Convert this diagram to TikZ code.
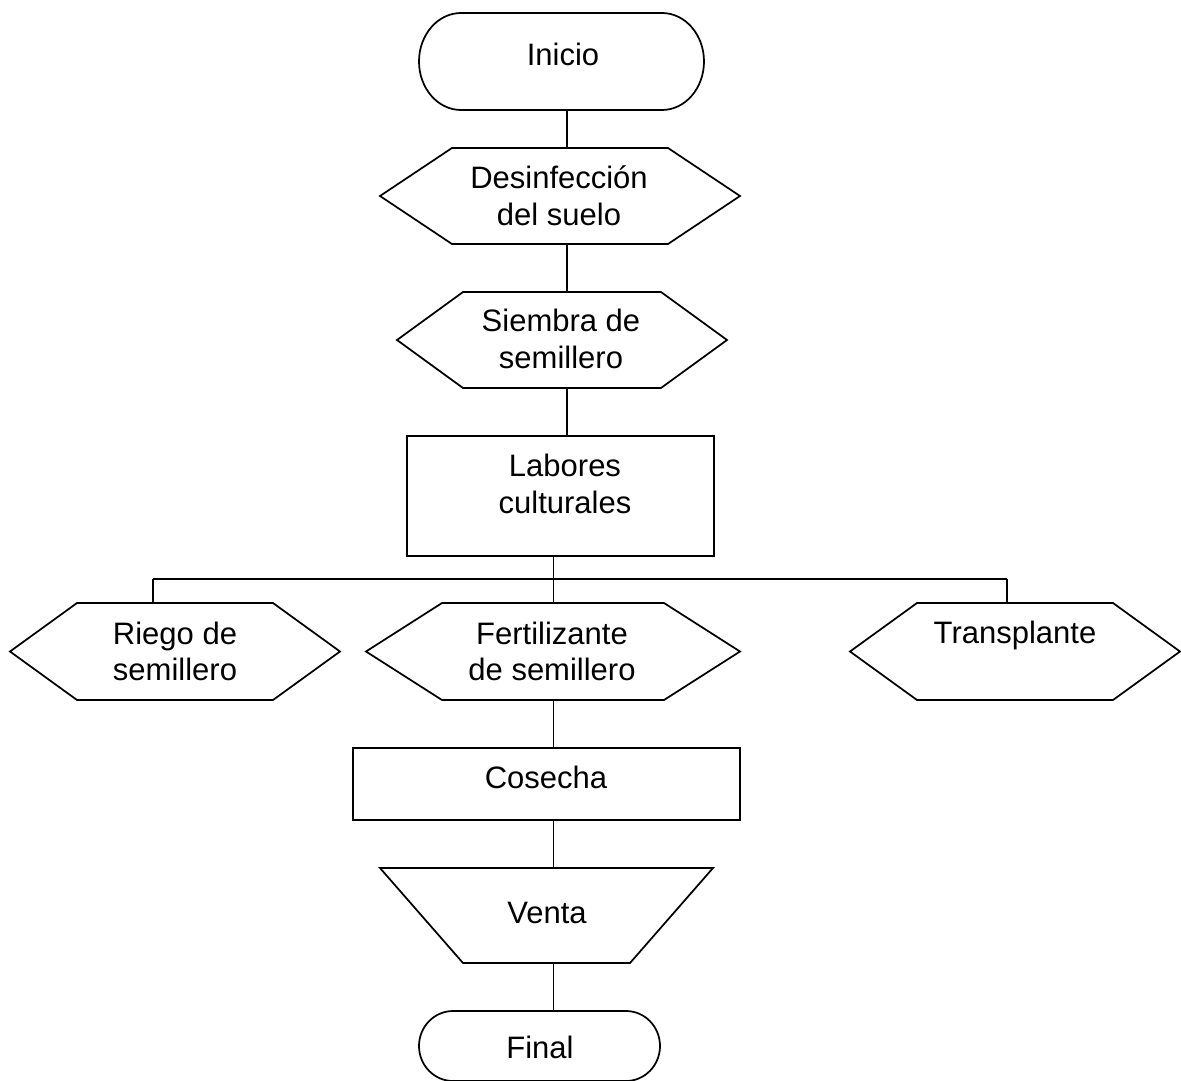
\documentclass[tikz,border=0pt]{standalone}
\usepackage{fontspec}
\setmainfont{Liberation Sans}
\usetikzlibrary{calc}
\begin{document}
\begin{tikzpicture}[x=0.75pt,y=-0.75pt,
  line/.style={draw=black,line width=1.3pt},
  box/.style={inner sep=0pt,outer sep=0pt},
  rectbox/.style={box,line,rectangle},
  txt/.style={inner sep=0pt,outer sep=0pt,align=center,
    font=\fontsize{23.25}{27.5}\selectfont},
  ]
\useasboundingbox (0,0) rectangle (1181,1081);

% shape frames (sizes in pt = px * 0.75)
\node[box,minimum width=213.75pt,minimum height=72.75pt] (ini) at (561.5,61.5) {};
\node[box,minimum width=270pt,minimum height=72pt]   (des) at (560,196) {};
\node[box,minimum width=247.5pt,minimum height=72pt] (sie) at (562,340) {};
\node[rectbox,minimum width=230.25pt,minimum height=90pt] (lab) at (560.5,496) {};
\node[box,minimum width=247.5pt,minimum height=72.75pt] (rie) at (175,651.5) {};
\node[box,minimum width=280.5pt,minimum height=72.75pt] (fer) at (553,651.5) {};
\node[box,minimum width=247.5pt,minimum height=72.75pt] (tra) at (1015,651.5) {};
\node[rectbox,minimum width=290.25pt,minimum height=54pt] (cos) at (546.5,784) {};
\node[box,minimum width=249.75pt,minimum height=71.25pt] (ven) at (546.5,915.5) {};
\node[box,minimum width=180.75pt,minimum height=52.5pt] (fin) at (539.5,1046) {};

% terminator outlines with rounded ends
\foreach \n/\rx/\ry in {ini/42/48.5,fin/34/35}
  \draw[line] ($(\n.north west)+(\rx,0)$) -- ($(\n.north east)+(-\rx,0)$)
    arc[start angle=-90,end angle=90,x radius=\rx,y radius=\ry]
    -- ($(\n.south west)+(\rx,0)$)
    arc[start angle=90,end angle=270,x radius=\rx,y radius=\ry] -- cycle;

% hexagon outlines
\foreach \n/\t in {des/72,sie/66,rie/67,fer/76,tra/67}
  \draw[line] ($(\n.north west)+(\t,0)$) -- ($(\n.north east)+(-\t,0)$)
    -- (\n.east) -- ($(\n.south east)+(-\t,0)$)
    -- ($(\n.south west)+(\t,0)$) -- (\n.west) -- cycle;

% trapezoid outline
\draw[line] (ven.north west) -- (ven.north east)
  -- ($(ven.south east)+(-83,0)$) -- ($(ven.south west)+(83,0)$) -- cycle;

% labels
\node[txt,anchor=base] (t-ini) at (563,65) {Inicio};
\node[txt] (t-des) at (559,195.5) {Desinfección\\del suelo};
\node[txt] (t-sie) at (561,339) {Siembra de\\semillero};
\node[txt] (t-lab) at (565,484) {Labores\\culturales};
\node[txt] (t-rie) at (175,651.5) {Riego de\\semillero};
\node[txt] (t-fer) at (552,651.5) {Fertilizante\\de semillero};
\node[txt,anchor=base] (t-tra) at (1015,643) {Transplante};
\node[txt,anchor=base] (t-cos) at (546,788) {Cosecha};
\node[txt,anchor=base] (t-ven) at (547,923) {Venta};
\node[txt,anchor=base] (t-fin) at (540,1058) {Final};

% connector guides
\coordinate (sp1) at (567,0);
\coordinate (sp2) at (553.5,0);
\coordinate (busL) at (153,579);
\coordinate (busM) at (553.5,579);
\coordinate (busR) at (1007,579);

% connectors
\draw[line] (ini.south -| sp1) -- (des.north -| sp1);
\draw[line] (des.south -| sp1) -- (sie.north -| sp1);
\draw[line] (sie.south -| sp1) -- (lab.north -| sp1);
\draw[line] (lab.south -| sp2) -- (busM);
\draw[line] (busL) -- (busR);
\draw[line] (busL) -- (rie.north -| busL);
\draw[line] (busM) -- (fer.north -| busM);
\draw[line] (busR) -- (tra.north -| busR);
\draw[line] (fer.south -| sp2) -- (cos.north -| sp2);
\draw[line] (cos.south -| sp2) -- (ven.north -| sp2);
\draw[line] (ven.south -| sp2) -- (fin.north -| sp2);
\end{tikzpicture}
\end{document}
